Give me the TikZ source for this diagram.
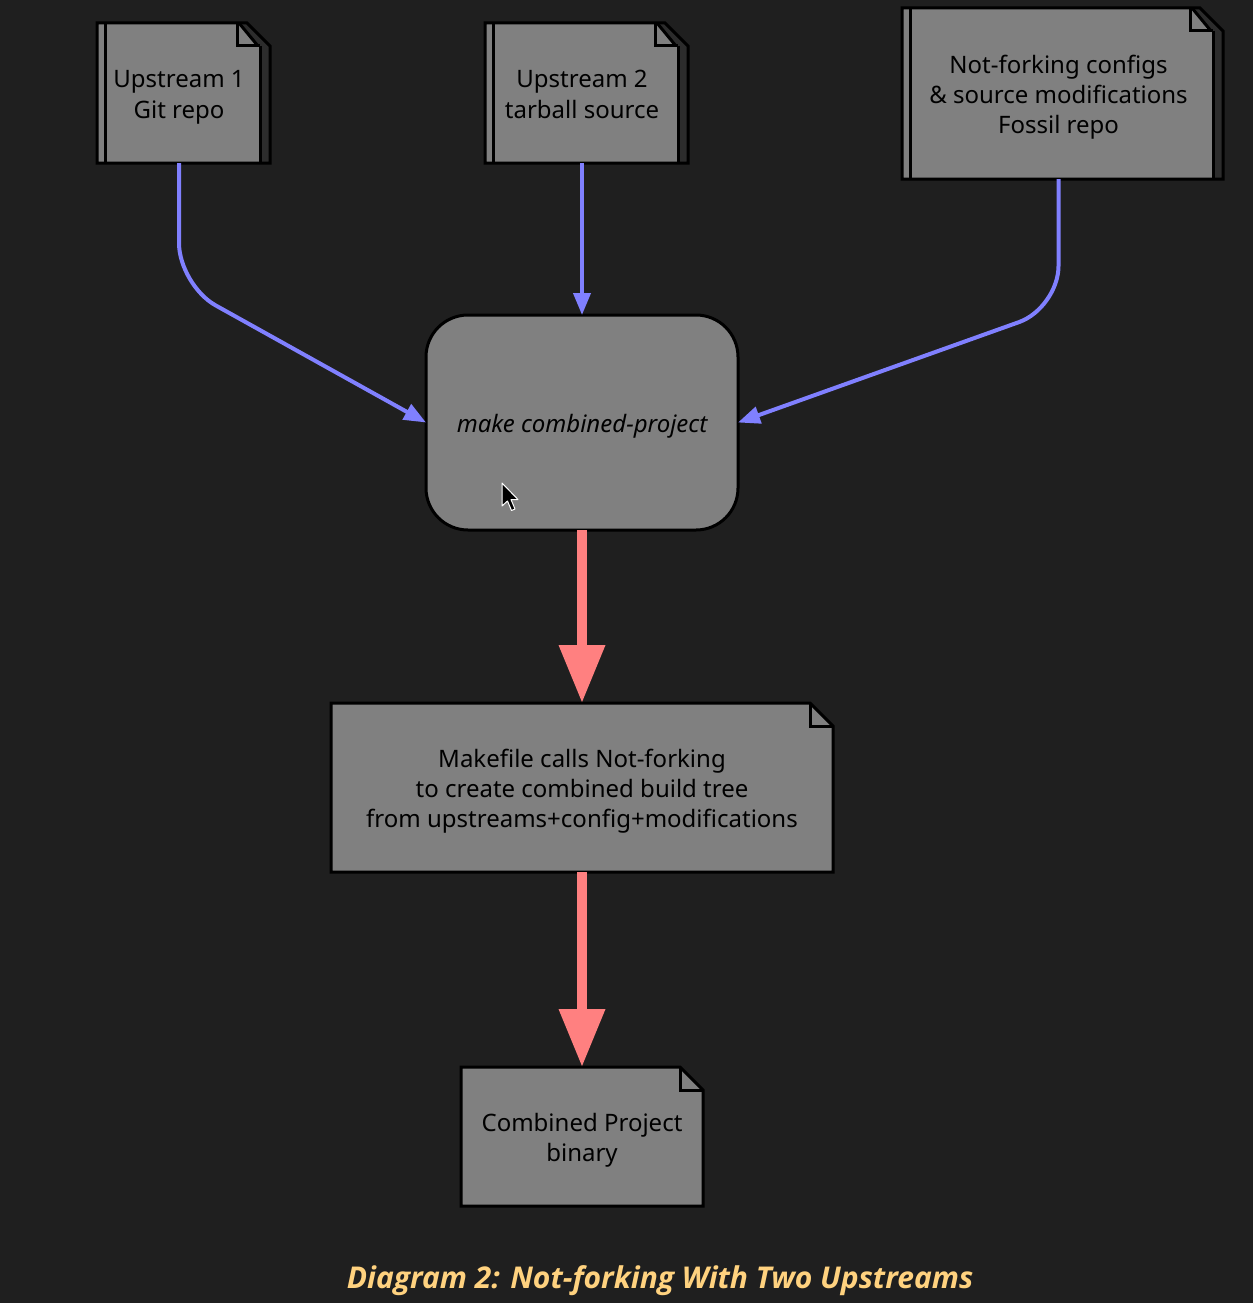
\documentclass[tikz,border=0pt]{standalone}
\usepackage{fontspec}
\setmainfont{Noto Sans}
\newfontfamily\capfont{Open Sans}
\usetikzlibrary{arrows.meta}
\definecolor{bgc}{HTML}{1F1F1F}
\definecolor{boxgray}{HTML}{808080}
\definecolor{stripc}{HTML}{2C2C2C}
\definecolor{bluec}{HTML}{8080FF}
\definecolor{redc}{HTML}{FF8080}
\definecolor{capc}{HTML}{FFD27F}
\newcommand\lowtext[1]{\raisebox{-4pt}[\height][\depth]{\begin{tabular}{@{}c@{}}#1\end{tabular}}}
\newcommand\stackfile[4]{%
  \fill[stripc] (#1,#2) -- ({#3-23},#2) -- (#3,{#2+23}) -- (#3,#4) -- (#1,#4) -- cycle;
  \fill[boxgray] (#1,#2) -- ({#3-33},#2) -- ({#3-33},{#2+23}) -- ({#3-10},{#2+23}) -- ({#3-10},#4) -- (#1,#4) -- cycle;
  \fill[boxgray] ({#3-31},{#2+1}) -- ({#3-12},{#2+23}) -- ({#3-33},{#2+23}) -- cycle;
  \draw[outl] (#1,#2) -- ({#3-23},#2) -- (#3,{#2+23}) -- (#3,#4) -- (#1,#4) -- cycle;
  \draw[outl] ({#1+8},#2) -- ({#1+8},#4);
  \draw[outl] ({#3-10},{#2+23}) -- ({#3-10},#4);
  \draw[outl] ({#3-33},#2) -- ({#3-33},{#2+23}) -- ({#3-10},{#2+23});
  \draw[outl] ({#3-31},#2) -- ({#3-12},{#2+23});
}
\newcommand\plainfile[4]{%
  \filldraw[outl, fill=boxgray] (#1,#2) -- ({#3-23},#2) -- (#3,{#2+23}) -- (#3,#4) -- (#1,#4) -- cycle;
  \draw[outl] ({#3-23},#2) -- ({#3-23},{#2+23}) -- (#3,{#2+23});
}
\tikzset{
  outl/.style={draw=black, line width=3pt, line join=miter},
  txt/.style={inner sep=0pt, outer sep=0pt, align=center, font=\fontsize{24pt}{30pt}\selectfont, text=black},
  bluearrow/.style={draw=bluec, line width=4pt, -{Triangle[length=22pt,width=17pt]}},
  redarrow/.style={draw=redc, line width=10pt, -{Triangle[length=58pt,width=44pt]}},
}
\begin{document}
\begin{tikzpicture}[x=1pt,y=-1pt]
\fill[bgc] (0,0) rectangle (1253,1303);
\useasboundingbox (0,0) rectangle (1253,1303);

% file shapes
\stackfile{97}{23}{270}{163}
\stackfile{485}{23}{688}{163}
\stackfile{902}{8}{1223}{179}
\plainfile{331}{703}{833}{872}
\plainfile{461}{1067}{703}{1206}

% nodes
\node[txt, minimum width=164pt, minimum height=140pt] (n1) at (179,93) {\lowtext{Upstream 1\\Git repo}};
\node[txt, minimum width=193pt, minimum height=140pt] (n2) at (582,93) {\lowtext{Upstream 2\\tarball source}};
\node[txt, minimum width=312pt, minimum height=171pt] (n3) at (1058.5,93.5) {\lowtext{Not-forking configs\\\& source modifications\\Fossil repo}};
\node[txt, draw=black, line width=3pt, fill=boxgray, rounded corners=42pt, minimum width=312pt, minimum height=215pt, font=\fontsize{24pt}{30pt}\selectfont\itshape] (mk) at (582,422.5) {\lowtext{make combined-project}};
\node[txt, minimum width=502pt, minimum height=169pt] (mf) at (582,787.5) {\lowtext{Makefile calls Not-forking\\to create combined build tree\\from upstreams+config+modifications}};
\node[txt, minimum width=242pt, minimum height=139pt] (cp) at (582,1136.5) {\lowtext{Combined Project\\binary}};

% cursor
\filldraw[fill=black, draw=white, line width=1pt, line join=round]
  (502,483) -- (502,506) -- (507.5,501) -- (511.5,510.5) -- (515,509) -- (511,499.5) -- (518,499.5) -- cycle;

% connectors
\draw[bluearrow, rounded corners=42pt] (n1.south) -- (179,285) -- (mk.west);
\draw[bluearrow] (n2.south) -- (mk.north);
\draw[bluearrow, rounded corners=42pt] (n3.south) -- (1058.5,308) -- (mk.east);
\draw[redarrow] (mk.south) -- (mf.north);
\draw[redarrow] (mf.south) -- (cp.north);

% caption
\node[inner sep=0pt, text=capc, font=\capfont\fontsize{30pt}{36pt}\selectfont\bfseries\itshape] (cap) at (660,1281) {Diagram 2: Not-forking With Two Upstreams};
\end{tikzpicture}
\end{document}
